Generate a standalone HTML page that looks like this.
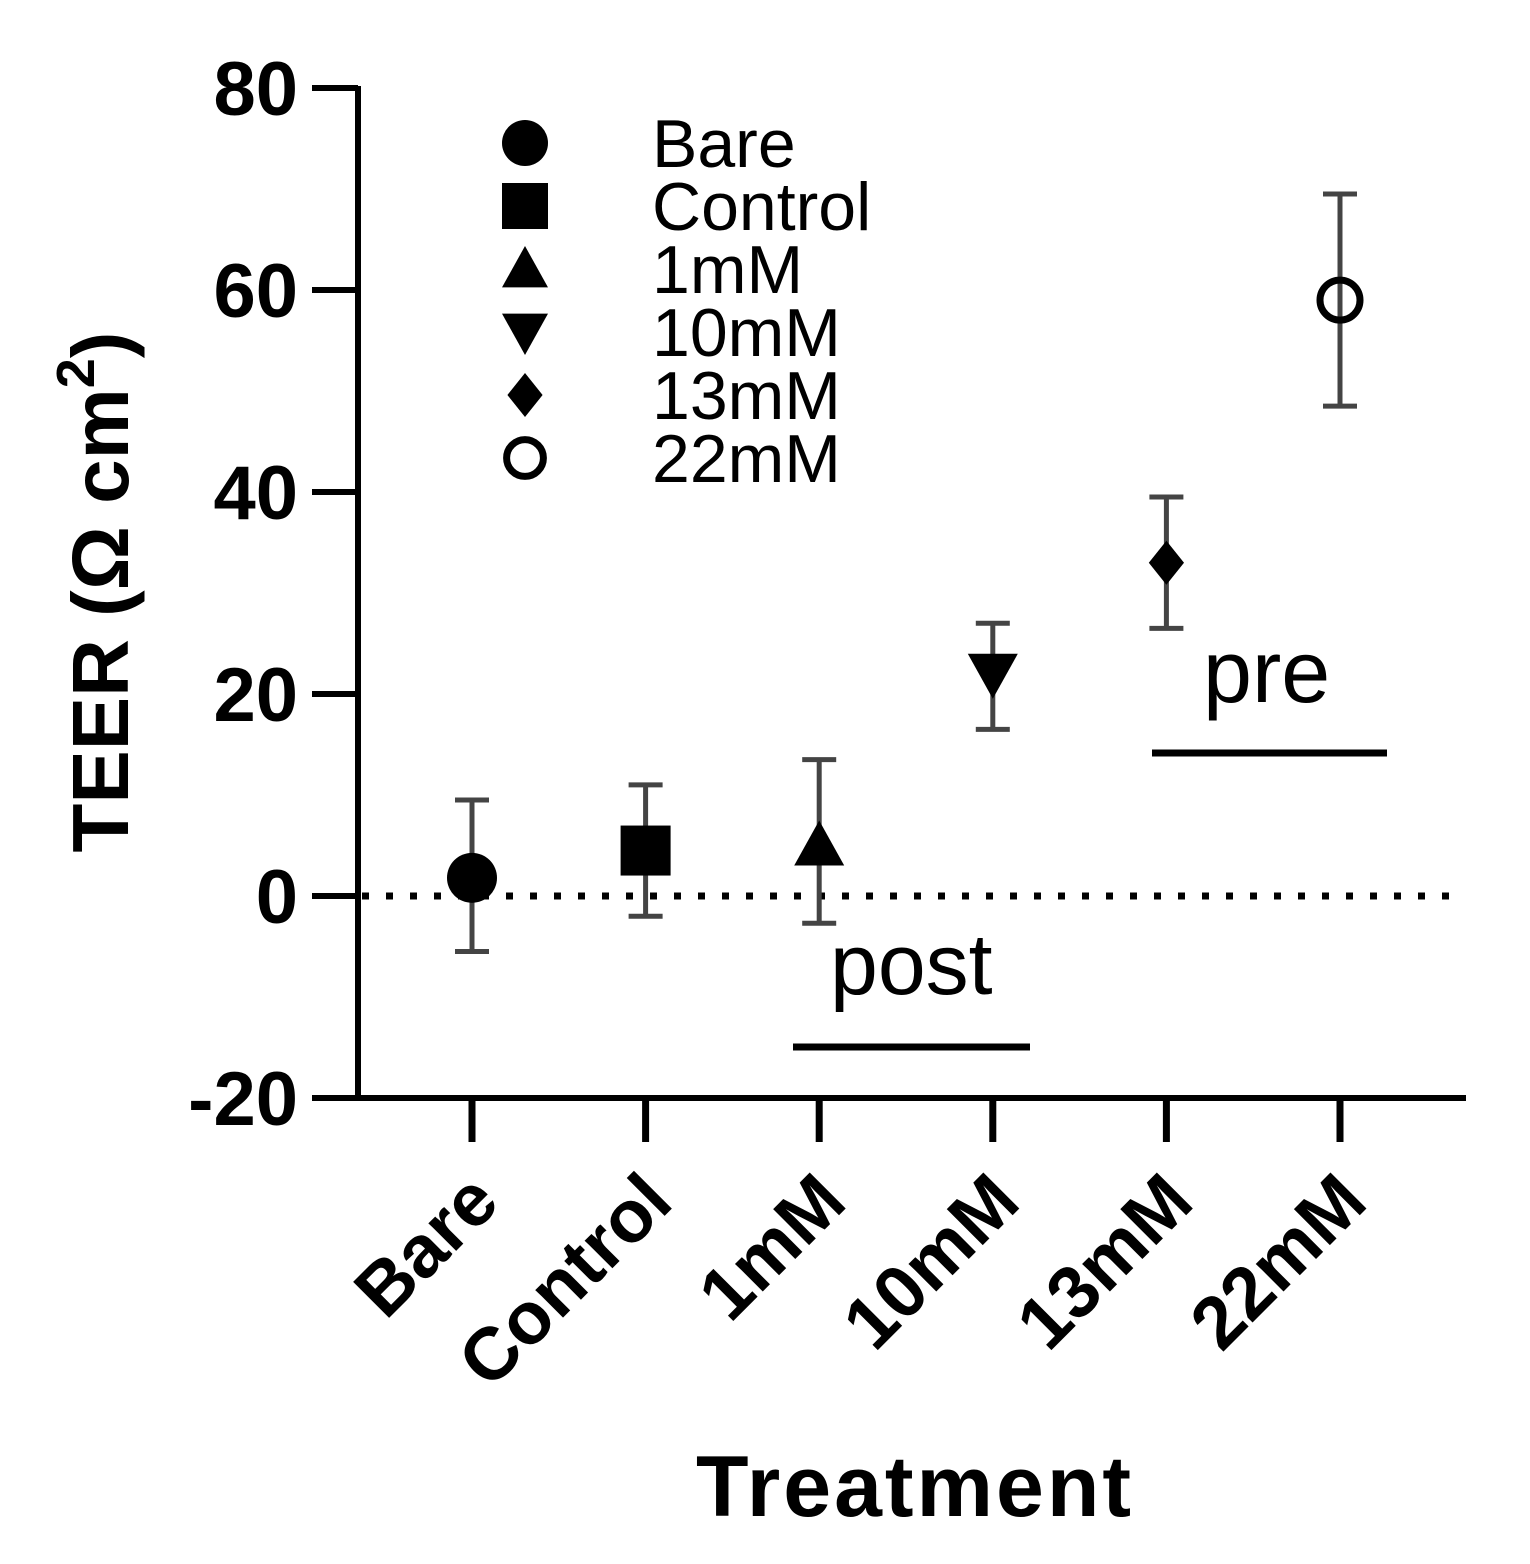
<!DOCTYPE html>
<html><head><meta charset="utf-8"><style>
body{margin:0;background:#fff;}
svg{display:block;font-family:"Liberation Sans",sans-serif;}
</style></head><body>
<svg id="chart" width="1530" height="1564" viewBox="0 0 1530 1564" xmlns="http://www.w3.org/2000/svg">
<g id="plot"></g>
</svg>
<script>
const categories=["Bare","Control","1mM","10mM","13mM","22mM"];
const means=[1.8,4.5,5,22,33,59];
const errUpper=[9.5,11,13.5,27,39.5,69.5];
const errLower=[-5.5,-2,-2.7,16.5,26.5,48.5];
const yTicks=[80,60,40,20,0,-20];
const markers=["circle","square","up","down","diamond","open"];

const NS="http://www.w3.org/2000/svg";
const g=document.getElementById('plot');
function y(v){return 896-v*10.1;}
function x(i){return 472+i*173.6;}
function el(t,a,p){const e=document.createElementNS(NS,t);for(const k in a)e.setAttribute(k,a[k]);(p||g).appendChild(e);return e;}
function marker(type,cx,cy,s){
  let e;
  if(type==="circle")e=el('circle',{cx,cy,r:s,fill:'#000'});
  else if(type==="square")e=el('rect',{x:cx-s,y:cy-s,width:2*s,height:2*s,fill:'#000'});
  else if(type==="up")e=el('polygon',{points:`${cx},${cy-s} ${cx-s},${cy+s*0.8} ${cx+s},${cy+s*0.8}`,fill:'#000'});
  else if(type==="down")e=el('polygon',{points:`${cx},${cy+s} ${cx-s},${cy-s*0.8} ${cx+s},${cy-s*0.8}`,fill:'#000'});
  else if(type==="diamond")e=el('polygon',{points:`${cx},${cy-s} ${cx-s*0.8},${cy} ${cx},${cy+s} ${cx+s*0.8},${cy}`,fill:'#000'});
  else e=el('circle',{cx,cy,r:s*0.8,fill:'none',stroke:'#000','stroke-width':7});
  return e;
}
let a=el('line',{x1:358,y1:86,x2:358,y2:1100,stroke:'#000','stroke-width':6});

a=el('line',{x1:355,y1:1098,x2:1466,y2:1098,stroke:'#000','stroke-width':6});

a=el('line',{x1:362,y1:y(0),x2:1460,y2:y(0),stroke:'#000','stroke-width':7,'stroke-dasharray':'7 17'});

yTicks.forEach(v=>{
  el('line',{x1:312,y1:y(v),x2:358,y2:y(v),stroke:'#000','stroke-width':6});
  const t=el('text',{x:298,y:y(v)+27,'text-anchor':'end','font-size':76,'font-weight':'bold'});
  t.textContent=v;
  
  
});
categories.forEach((c,i)=>{
  const cx=x(i);
  el('line',{x1:cx,y1:1098,x2:cx,y2:1142,stroke:'#000','stroke-width':7});
  const t=el('text',{x:0,y:0,'text-anchor':'end','font-size':74,'font-weight':'bold',transform:`translate(${cx+30},${1205}) rotate(-45)`});
  t.textContent=c;
  
  
  const eb=el('g',{});
  
  
  el('line',{x1:cx,y1:y(errUpper[i]),x2:cx,y2:y(errLower[i]),stroke:'#444','stroke-width':5},eb);
  el('line',{x1:cx-17,y1:y(errUpper[i]),x2:cx+17,y2:y(errUpper[i]),stroke:'#444','stroke-width':5},eb);
  el('line',{x1:cx-17,y1:y(errLower[i]),x2:cx+17,y2:y(errLower[i]),stroke:'#444','stroke-width':5},eb);
  const m=marker(markers[i],cx,y(means[i]),markers[i]==="diamond"?22:25);
  
  
  const ly=143+i*63;
  const lm=marker(markers[i],525,ly,markers[i]==="diamond"?22:23);
  
  
  const lt=el('text',{x:652,y:ly+24,'font-size':68});
  lt.textContent=c;
  
  
});
let t=el('text',{x:0,y:0,'text-anchor':'middle','font-size':80,'font-weight':'bold',transform:'translate(128,592) rotate(-90)'});
t.innerHTML='TEER (Ω cm<tspan dy="-34" font-size="54">2</tspan><tspan dy="34">)</tspan>';

t=el('text',{x:915,y:1516,'text-anchor':'middle','font-size':86,'font-weight':'bold','letter-spacing':3});
t.textContent='Treatment';

t=el('text',{x:1203,y:702,'font-size':88});t.textContent='pre';

a=el('line',{x1:1152,y1:753,x2:1387,y2:753,stroke:'#000','stroke-width':7});

t=el('text',{x:830,y:994,'font-size':86});t.textContent='post';

a=el('line',{x1:793,y1:1047,x2:1030,y2:1047,stroke:'#000','stroke-width':7});

</script>
</body></html>
